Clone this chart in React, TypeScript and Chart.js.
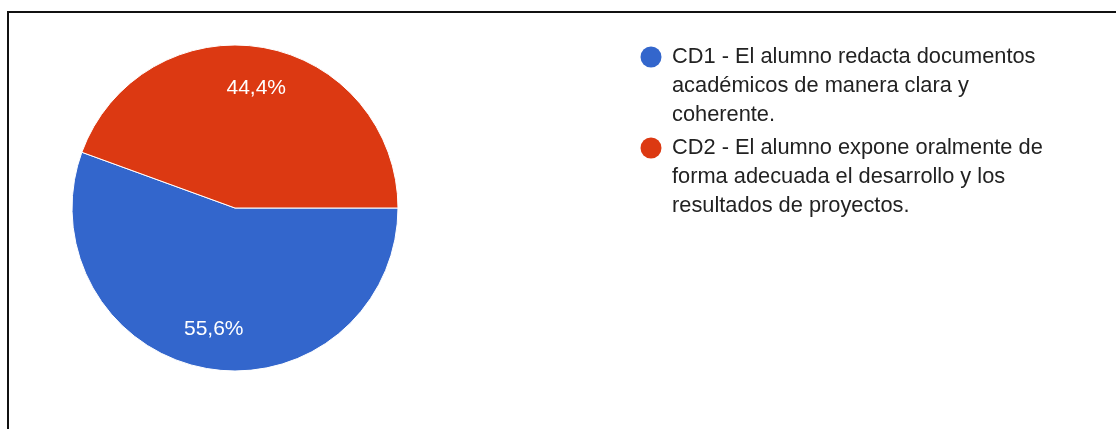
import React, { useEffect, useRef } from "react";
import { Chart, registerables } from "chart.js";

Chart.register(...registerables);

const categories: string[][] = [
  ["CD1 - El alumno redacta documentos", "académicos de manera clara y", "coherente."],
  ["CD2 - El alumno expone oralmente de", "forma adecuada el desarrollo y los", "resultados de proyectos."],
];
const seriesValues: number[] = [5, 4];
const sliceColors: string[] = ["#3366CC", "#DC3912"];

const FONT = '"Liberation Sans", Arial, sans-serif';

const pieLabelsPlugin = {
  id: "pieLabels",
  afterDatasetsDraw(chart: any) {
    const ctx = chart.ctx;
    const meta = chart.getDatasetMeta(0);
    const data = chart.data.datasets[0].data as number[];
    const total = data.reduce((a, b) => a + b, 0);
    ctx.save();
    ctx.font = `21px ${FONT}`;
    ctx.fillStyle = "#ffffff";
    ctx.textAlign = "center";
    ctx.textBaseline = "middle";
    meta.data.forEach((arc: any, i: number) => {
      const { x, y, startAngle, endAngle, outerRadius } = arc.getProps(
        ["x", "y", "startAngle", "endAngle", "outerRadius"],
        true
      );
      const mid = (startAngle + endAngle) / 2;
      const r = outerRadius * 0.75;
      const pct = ((data[i] / total) * 100).toFixed(1).replace(".", ",") + "%";
      ctx.fillText(pct, x + Math.cos(mid) * r, y + Math.sin(mid) * r + 1);
    });
    ctx.restore();
  },
};

const legendPlugin = {
  id: "customLegend",
  afterDraw(chart: any) {
    const ctx = chart.ctx;
    const labels = chart.data.labels as string[][];
    const colors = chart.data.datasets[0].backgroundColor as string[];
    const dotX = 651;
    const textX = 672;
    const lineH = 29;
    const itemGap = 33;
    let y = 57;
    ctx.save();
    ctx.font = `21.8px ${FONT}`;
    ctx.textAlign = "left";
    ctx.textBaseline = "middle";
    labels.forEach((lines, i) => {
      ctx.beginPath();
      ctx.arc(dotX, y, 10.5, 0, Math.PI * 2);
      ctx.fillStyle = colors[i];
      ctx.fill();
      ctx.fillStyle = "#222222";
      lines.forEach((line, j) => {
        ctx.fillText(line, textX, y + j * lineH);
      });
      y += (lines.length - 1) * lineH + itemGap;
    });
    ctx.restore();
  },
};

export default function App() {
  const canvasRef = useRef<HTMLCanvasElement | null>(null);

  useEffect(() => {
    if (!canvasRef.current) return;
    const chart = new Chart(canvasRef.current, {
      type: "pie",
      data: {
        labels: categories as any,
        datasets: [
          {
            data: seriesValues,
            backgroundColor: sliceColors,
            borderColor: "#ffffff",
            borderWidth: 1,
            radius: 163,
          } as any,
        ],
      },
      options: {
        animation: false,
        responsive: false,
        maintainAspectRatio: false,
        rotation: 90,
        layout: { padding: { left: 60, right: 706, top: 40, bottom: 53 } },
        plugins: {
          legend: { display: false },
          tooltip: { enabled: false },
        },
      },
      plugins: [pieLabelsPlugin, legendPlugin],
    });
    return () => chart.destroy();
  }, []);

  return (
    <div
      style={{
        position: "absolute",
        left: 0,
        top: 0,
        width: 1116,
        height: 429,
        overflow: "hidden",
        background: "#ffffff",
      }}
    >
      <div
        style={{
          position: "absolute",
          left: 7,
          top: 11,
          width: 1200,
          height: 500,
          borderTop: "2px solid #111",
          borderLeft: "2px solid #111",
          boxSizing: "border-box",
        }}
      />
      <canvas
        ref={canvasRef}
        width={1116}
        height={429}
        style={{ position: "absolute", left: 0, top: 0, width: 1116, height: 429 }}
      />
    </div>
  );
}
